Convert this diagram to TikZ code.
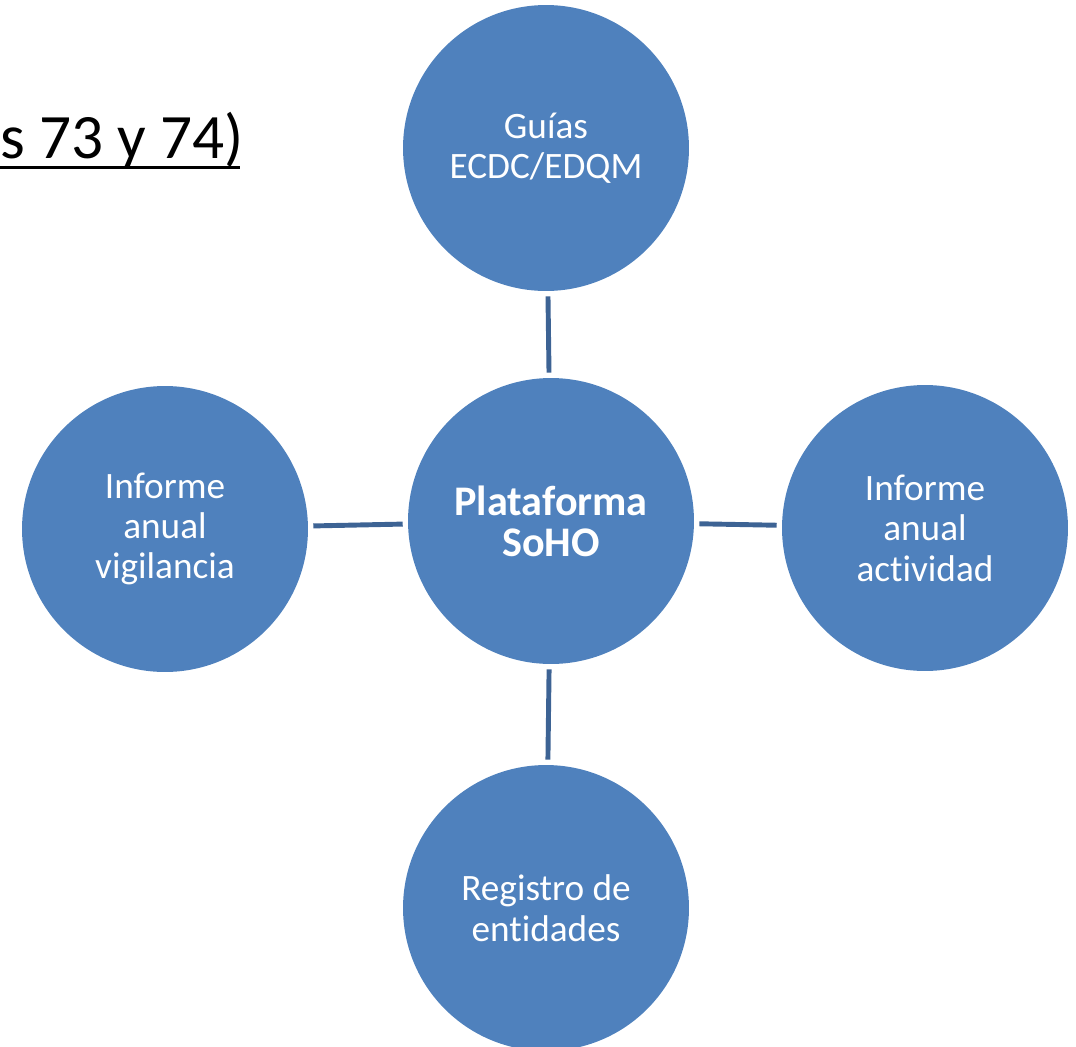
\documentclass[tikz,border=0pt]{standalone}
\usepackage{fontspec}
\setmainfont{Carlito}[Ligatures=NoCommon]
\usetikzlibrary{positioning}
\definecolor{sohoblue}{RGB}{79,129,189}
\definecolor{sohoedge}{RGB}{61,99,148}

\begin{document}
\begin{tikzpicture}[x=0.02cm,y=-0.02cm,
  bubble/.style={circle,fill=sohoblue,minimum size=5.72cm,inner sep=0pt,
    text=white,align=center,font=\fontsize{21.2}{23}\selectfont},
  link/.style={sohoedge,line width=2.8pt,shorten <=0.1cm,shorten >=0.1cm}]
\clip (0,0) rectangle (1076,1046);
% title fragment
\node[anchor=base west,inner sep=0pt,font=\fontsize{36}{40}\selectfont] (title) at (0,158) {s 73 y 74)};
\draw[line width=1.7pt] (title.base west)++(0,9) -- ++(240,0);
% circles
\node[bubble,font=\fontsize{24}{23.5}\selectfont\bfseries] (soho) at (551,521) {Plataforma\\SoHO};
\node[bubble] (guias) at (546,148) {Guías\\ECDC/EDQM};
\node[bubble] (vigil) at (165,529) {Informe\\anual\\vigilancia};
\node[bubble] (activ) at (925,528) {Informe\\anual\\actividad};
\node[bubble] (regis) at (546,908) {Registro de\\entidades};
% connectors
\draw[link] (guias) -- (soho);
\draw[link] (vigil) -- (soho);
\draw[link] (soho) -- (activ);
\draw[link] (soho) -- (regis);
\end{tikzpicture}
\end{document}
